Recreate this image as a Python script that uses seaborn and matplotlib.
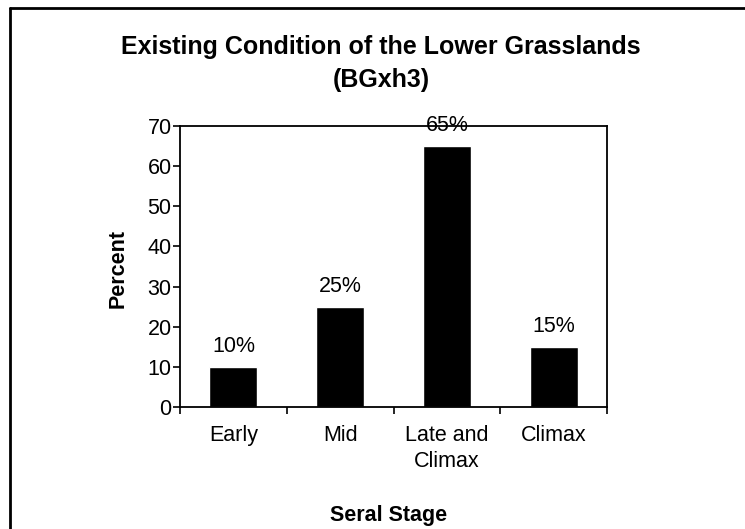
import matplotlib
matplotlib.use("Agg")
import matplotlib.pyplot as plt
import seaborn as sns
import pandas as pd
from matplotlib.lines import Line2D

# 数据
stages = ["Early", "Mid", "Late and\nClimax", "Climax"]
percent = [10, 25, 65, 15]
yticks = [0, 10, 20, 30, 40, 50, 60, 70]

sns.set_theme(style="white")
plt.rcParams['font.family'] = ['Liberation Sans', 'DejaVu Sans']
plt.rcParams['text.color'] = 'black'
plt.rcParams['xtick.color'] = 'black'
plt.rcParams['ytick.color'] = 'black'

df = pd.DataFrame({"stage": stages, "percent": percent})

fig = plt.figure(figsize=(7.45, 5.29), dpi=100)
ax = fig.add_axes([180 / 745, 1 - 407 / 529, 427 / 745, 281 / 529])

sns.barplot(data=df, x="stage", y="percent", color="black", width=0.45,
            saturation=1, ax=ax)

ax.set_xlim(-0.5, len(stages) - 0.5)
ax.set_ylim(0, 70)
ax.set_yticks(yticks)

# 刻度
ax.set_xticks(range(len(stages)))
ax.set_xticklabels(stages, fontsize=15.5, linespacing=1.3, va="top")
ax.set_xticks([i - 0.5 for i in range(len(stages) + 1)], minor=True)
ax.tick_params(axis="x", which="major", length=0, pad=13)
ax.tick_params(axis="x", which="minor", length=5, width=1.2, color="black",
               direction="out", bottom=True)
ax.tick_params(axis="y", length=5, width=1.2, color="black", direction="out",
               left=True, labelsize=15.5, pad=1)

for s in ax.spines.values():
    s.set_color("black")
    s.set_linewidth(1.3)

ax.set_xlabel("")
ax.set_ylabel("")

# 数值标签
for i, v in enumerate(percent):
    ax.annotate(f"{v}%", (i, v), xytext=(0, 7), textcoords="offset points",
                ha="center", va="bottom", fontsize=15.5)

fig.text(381 / 745, 1 - 47 / 529, "Existing Condition of the Lower Grasslands",
         ha="center", va="center", fontsize=18, fontweight="bold")
fig.text(381 / 745, 1 - 80 / 529, "(BGxh3)",
         ha="center", va="center", fontsize=18, fontweight="bold")
fig.text(118 / 745, 1 - 268 / 529, "Percent", rotation=90,
         ha="center", va="center", fontsize=15.5, fontweight="bold")
fig.text(389 / 745, 1 - 516 / 529, "Seral Stage",
         ha="center", va="center", fontsize=15.5, fontweight="bold")

# 外边框（只有上边和左边可见）
fig.add_artist(Line2D([9.5 / 745, 1], [1 - 8 / 529, 1 - 8 / 529],
                      transform=fig.transFigure, color="black", lw=2))
fig.add_artist(Line2D([9.5 / 745, 9.5 / 745], [0, 1 - 8 / 529],
                      transform=fig.transFigure, color="black", lw=2))

fig.savefig("out.png", dpi=100)
